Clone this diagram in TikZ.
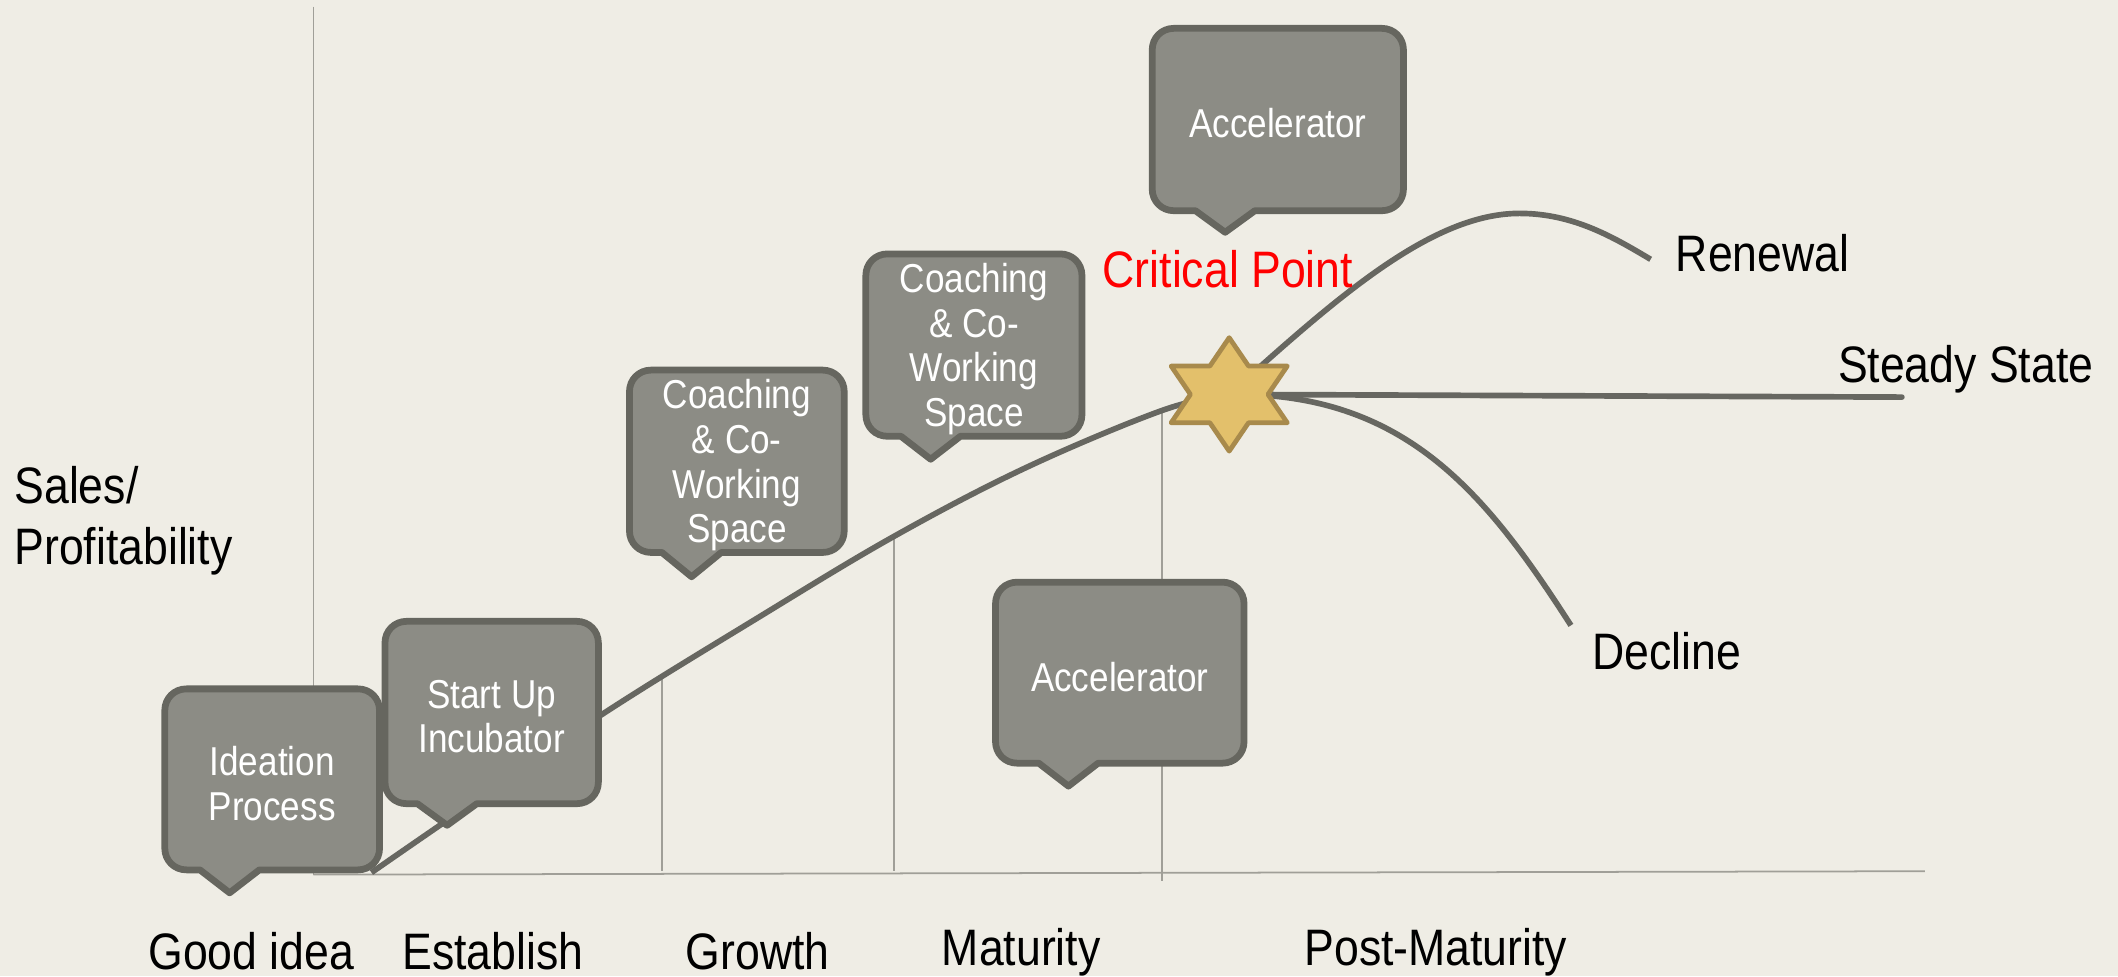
\documentclass[tikz,border=0pt]{standalone}
\usepackage{fontspec}
\setmainfont{Liberation Sans}[FakeStretch=0.87]
\definecolor{bgcol}{RGB}{239,237,229}
\definecolor{boxfill}{RGB}{140,140,133}
\definecolor{boxline}{RGB}{102,102,95}
\definecolor{curvecol}{RGB}{103,103,97}
\definecolor{axiscol}{RGB}{160,159,152}
\definecolor{starfill}{RGB}{227,192,107}
\definecolor{starline}{RGB}{168,138,76}
\newcommand\mybubble[8]{%
\path[bubble] ({#2+16},#3) -- ({#4-16},#3) .. controls ({#4-7},#3) and (#4,{#3+7}) .. (#4,{#3+16}) -- (#4,{#5-16}) .. controls (#4,{#5-7}) and ({#4-7},#5) .. ({#4-16},#5) -- ({#6+22},#5) -- (#6,#7) -- ({#6-22},#5) -- ({#2+16},#5) .. controls ({#2+7},#5) and (#2,{#5-7}) .. (#2,{#5-16}) -- (#2,{#3+16}) .. controls (#2,{#3+7}) and ({#2+7},#3) .. ({#2+16},#3) -- cycle;
\node[btext] (#1) at ({(#2+#4)/2},{(#3+#5)/2+3}) {#8};}
\begin{document}
\begin{tikzpicture}[x=0.1mm,y=-0.1mm,
  bubble/.style={fill=boxfill,draw=boxline,line width=0.5mm,line join=round},
  btext/.style={text=white,align=center,inner sep=0pt,font=\fontsize{8.5}{9.4}\selectfont},
  lbl/.style={text=black,inner sep=0pt,font=\fontsize{10.8}{12.8}\selectfont},
  curve/.style={draw=curvecol,line width=0.42mm},
  thinline/.style={draw=axiscol,line width=0.13mm},
  starshape/.style={fill=starfill,draw=starline,line width=0.35mm,line join=round}]
\useasboundingbox (0,0) rectangle (1568,722.6);
\fill[bgcol] (0,0) rectangle (1568,722.6);
% axes and dividers
\draw[thinline] (232,5) -- (232,648);
\draw[thinline] (232,647.5) -- (1425,645);
\draw[thinline] (490,501) -- (490,645);
\draw[thinline] (662,397) -- (662,645);
\draw[thinline] (860,304) -- (860,652);
% coordinates
\coordinate (start) at (275,646);
\coordinate (star) at (910,292);
\coordinate (renewEnd) at (1222,192);
\coordinate (steadyEnd) at (1408,294);
\coordinate (declineEnd) at (1163,463);
% curves
\draw[curve] plot[smooth,tension=0.6] coordinates {(275,646) (330,608) (444,530) (560,458) (662,397) (760,346) (860,304) (910,292)};
\draw[curve] (star) .. controls (990,220) and (1060,158) .. (1125,158) .. controls (1165,158) and (1195,176) .. (renewEnd);
\draw[curve,line cap=round] (star) -- (steadyEnd);
\draw[curve] (star) .. controls (1040,290) and (1100,365) .. (declineEnd);
% star
\draw[starshape,shift={(star)}] (0,-42) -- (14.3,-21) -- (43,-21) -- (28.7,0) -- (43,21) -- (14.3,21) -- (0,42) -- (-14.3,21) -- (-43,21) -- (-28.7,0) -- (-43,-21) -- (-14.3,-21) -- cycle;
% bubbles
\mybubble{ideation}{122}{510}{281}{644}{170}{661}{Ideation\\Process}
\mybubble{startup}{285}{460}{443}{595}{331}{611}{Start Up\\Incubator}
\mybubble{coachA}{466}{274}{625}{409}{512}{427}{Coaching\\\& Co-\\Working\\Space}
\mybubble{coachB}{641}{188}{801}{323}{689}{340}{Coaching\\\& Co-\\Working\\Space}
\mybubble{accTop}{853}{21}{1039}{156}{907}{172}{Accelerator}
\mybubble{accLow}{737}{431}{921}{565}{791}{582}{Accelerator}
% labels
\node[lbl,anchor=base west] (sales) at (10,373) {Sales/};
\node[lbl,anchor=base west] (profit) at (10,418) {Profitability};
\node[lbl,anchor=base] (good) at (186,717.5) {Good idea};
\node[lbl,anchor=base] (establish) at (365,717.5) {Establish};
\node[lbl,anchor=base] (growth) at (561,717.5) {Growth};
\node[lbl,anchor=base] (maturity) at (756,715) {Maturity};
\node[lbl,anchor=base] (post) at (1063,715) {Post-Maturity};
\node[lbl,anchor=base,text=red] (critical) at (909,213) {Critical Point};
\node[lbl,anchor=base west] (renewal) at (1240,201) {Renewal};
\node[lbl,anchor=base west] (steady) at (1360,283) {Steady State};
\node[lbl,anchor=base west] (decline) at (1178,496) {Decline};
\end{tikzpicture}
\end{document}
